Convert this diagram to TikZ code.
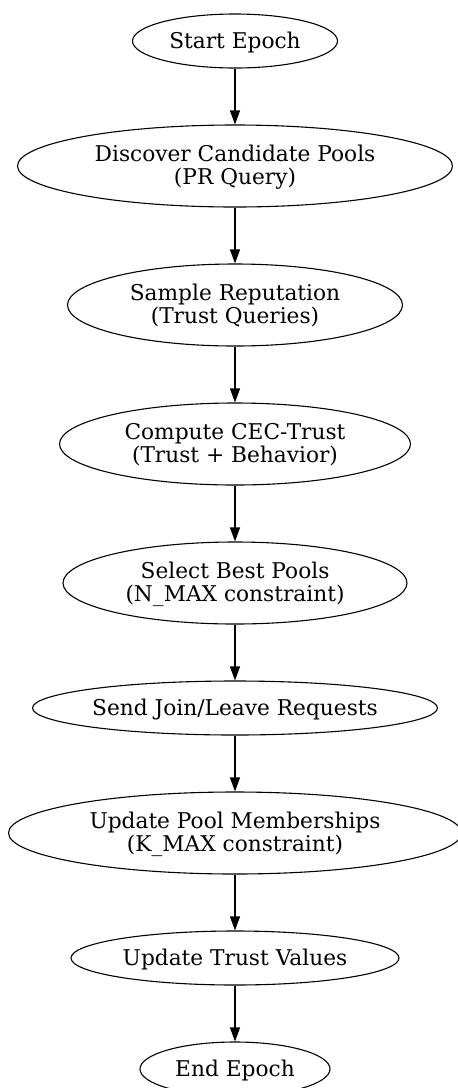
\documentclass[tikz,border=0pt]{standalone}
\usepackage{fontspec}
\setmainfont{DejaVu Serif}
\usetikzlibrary{shapes.geometric,arrows.meta}
\newcommand{\lbl}[1]{\makebox[0pt]{\raisebox{-2pt}[\height][\depth]{\begin{tabular}{@{}c@{}}#1\end{tabular}}}}
\tikzset{
  flownode/.style={draw, ellipse, line width=1.1pt, inner sep=0pt, font=\fontsize{21.7}{21}\selectfont},
  flowarrow/.style={line width=1.1pt, -{Triangle[length=14pt,width=10pt]}}
}
\begin{document}
\begin{tikzpicture}[x=1pt,y=-1pt]
\useasboundingbox (0,0) rectangle (458,1088);
\node[flownode, minimum width=205, minimum height=54] (n1) at (235,41) {\lbl{Start Epoch}};
\node[flownode, minimum width=435, minimum height=82] (n2) at (235,166) {\lbl{Discover Candidate Pools\\(PR Query)}};
\node[flownode, minimum width=335, minimum height=82] (n3) at (235,305) {\lbl{Sample Reputation\\(Trust Queries)}};
\node[flownode, minimum width=351, minimum height=82] (n4) at (235,444) {\lbl{Compute CEC-Trust\\(Trust + Behavior)}};
\node[flownode, minimum width=344, minimum height=82] (n5) at (235,583) {\lbl{Select Best Pools\\(N\_MAX constraint)}};
\node[flownode, minimum width=405, minimum height=54] (n6) at (235,708) {\lbl{Send Join/Leave Requests}};
\node[flownode, minimum width=453, minimum height=82] (n7) at (235,833) {\lbl{Update Pool Memberships\\(K\_MAX constraint)}};
\node[flownode, minimum width=328, minimum height=54] (n8) at (235,958) {\lbl{Update Trust Values}};
\node[flownode, minimum width=190, minimum height=54] (n9) at (235,1069) {\lbl{End Epoch}};
\foreach \a/\b in {n1/n2,n2/n3,n3/n4,n4/n5,n5/n6,n6/n7,n7/n8,n8/n9}
  \draw[flowarrow] (\a.south) -- (\b.north);
\end{tikzpicture}
\end{document}
